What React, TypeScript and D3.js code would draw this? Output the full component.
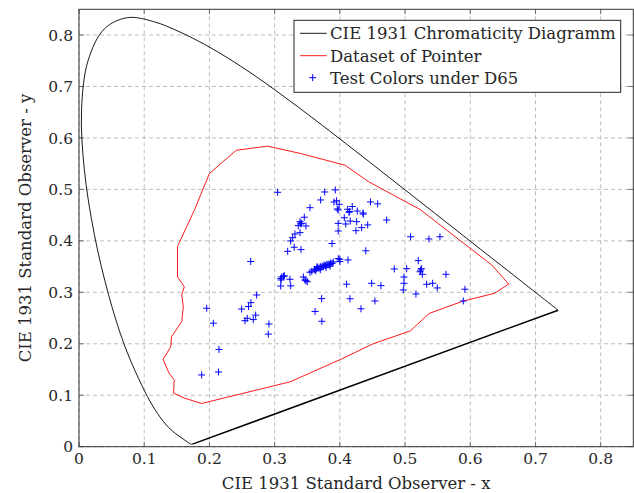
import React, { useEffect } from 'react';
import * as d3 from 'd3';

// CIE 1931 2° spectral locus (380–700 nm, 5 nm steps)
const locusX = [0.1741,0.1740,0.1738,0.1736,0.1733,0.1730,0.1726,0.1721,0.1714,0.1703,0.1689,0.1669,0.1644,0.1611,0.1566,0.1510,0.1440,0.1355,0.1241,0.1096,0.0913,0.0687,0.0454,0.0235,0.0082,0.0039,0.0139,0.0389,0.0743,0.1142,0.1547,0.1929,0.2296,0.2658,0.3016,0.3373,0.3731,0.4087,0.4441,0.4788,0.5125,0.5448,0.5752,0.6029,0.6270,0.6482,0.6658,0.6801,0.6915,0.7006,0.7079,0.7140,0.7190,0.7230,0.7260,0.7283,0.7300,0.7311,0.7320,0.7327,0.7334,0.7340,0.7344,0.7346,0.7347];
const locusY = [0.0050,0.0050,0.0049,0.0049,0.0048,0.0048,0.0048,0.0048,0.0051,0.0058,0.0069,0.0086,0.0109,0.0138,0.0177,0.0227,0.0297,0.0399,0.0578,0.0868,0.1327,0.2007,0.2950,0.4127,0.5384,0.6548,0.7502,0.8120,0.8338,0.8262,0.8059,0.7816,0.7543,0.7243,0.6923,0.6589,0.6245,0.5896,0.5547,0.5202,0.4866,0.4544,0.4242,0.3965,0.3725,0.3514,0.3340,0.3197,0.3083,0.2993,0.2920,0.2859,0.2809,0.2770,0.2740,0.2717,0.2700,0.2689,0.2680,0.2673,0.2666,0.2660,0.2656,0.2654,0.2653];

// Pointer's gamut
const pointerXY: [number, number][] = [
  [0.151,0.389],[0.177,0.460],[0.200,0.531],[0.241,0.576],[0.289,0.584],[0.339,0.570],[0.408,0.547],[0.444,0.515],[0.523,0.461],[0.633,0.353],[0.659,0.316],[0.637,0.298],[0.589,0.283],[0.537,0.259],[0.508,0.225],[0.451,0.200],[0.400,0.169],[0.3235,0.126],[0.188,0.084],[0.1625,0.094],[0.145,0.104],[0.146,0.130],[0.138,0.143],[0.129,0.170],[0.1406,0.194],[0.142,0.214],[0.1575,0.243],[0.160,0.272],[0.1575,0.295],[0.1615,0.311],[0.151,0.330]
];

// Test colours under D65
const testXY: [number, number][] = [
  [0.1881,0.1394],[0.2140,0.1452],[0.2147,0.1890],[0.2060,0.2400],[0.1958,0.2690],[0.2633,0.3600],[0.2724,0.2948],[0.2637,0.2799],[0.2600,0.2725],[0.2494,0.2675],[0.2709,0.2557],[0.2673,0.2470],[0.2580,0.2496],[0.2545,0.2449],[0.2913,0.2385],[0.2903,0.2188],
  [0.3093,0.3270],[0.3110,0.3300],[0.3135,0.3310],[0.3150,0.3320],[0.3100,0.3240],[0.3093,0.3123],[0.3235,0.3254],[0.3246,0.3126],[0.3440,0.3298],[0.3465,0.3240],[0.3500,0.3207],[0.3480,0.3225],[0.3542,0.3390],
  [0.3046,0.4944],[0.3200,0.3797],[0.3300,0.3876],[0.3404,0.3830],[0.3246,0.3998],[0.3277,0.4062],[0.3312,0.4134],[0.3389,0.4160],[0.3363,0.4296],[0.3414,0.4342],[0.3389,0.4373],[0.3400,0.4330],[0.3480,0.4290],[0.3455,0.4460],[0.3542,0.4645],
  [0.3767,0.4950],[0.3930,0.4990],[0.3705,0.4795],[0.3910,0.4755],[0.3950,0.4780],[0.3990,0.4710],[0.3975,0.4600],[0.3960,0.4620],[0.4120,0.4614],[0.4150,0.4570],[0.4190,0.4668],[0.4140,0.4556],[0.4267,0.4580],[0.4354,0.4542],[0.4360,0.4520],[0.4470,0.4756],[0.4580,0.4720],[0.4068,0.4450],[0.3975,0.4340],[0.3975,0.4192],[0.4090,0.4328],[0.4160,0.4385],[0.4258,0.4373],[0.4247,0.4198],[0.4334,0.4257],[0.4427,0.4310],[0.4718,0.4406],[0.3880,0.3950],[0.4398,0.3807],
  [0.5085,0.4080],[0.5366,0.4037],[0.5535,0.4080],[0.5203,0.3616],[0.5239,0.3434],[0.5250,0.3460],[0.5265,0.3350],[0.5230,0.3400],[0.5025,0.3460],[0.4835,0.3454],[0.5627,0.3350],[0.4983,0.3298],[0.4983,0.3176],[0.4973,0.3046],[0.4488,0.3176],[0.4630,0.3130],[0.5331,0.3156],[0.5423,0.3176],[0.5494,0.3085],[0.5167,0.2968],[0.5918,0.3060],[0.5893,0.2832],[0.4538,0.2832],[0.4324,0.2680],[0.4104,0.3158],[0.4155,0.2875],[0.3721,0.2878],[0.3620,0.2628],[0.3724,0.2437],
  [0.3976,0.3655],[0.4000,0.3642],[0.4125,0.3629],[0.4000,0.3600],
  [0.3570,0.3410],[0.3610,0.3440],[0.3640,0.3460],[0.3660,0.3480],[0.3680,0.3470],[0.3700,0.3500],[0.3710,0.3480],[0.3730,0.3510],[0.3750,0.3500],[0.3760,0.3530],[0.3780,0.3520],[0.3800,0.3540],[0.3820,0.3550],[0.3840,0.3540],[0.3860,0.3570],[0.3880,0.3560],[0.3900,0.3590],[0.3700,0.3440],[0.3650,0.3500],[0.3790,0.3480],[0.3850,0.3510],[0.3630,0.3420]
];

const ticks = [0, 0.1, 0.2, 0.3, 0.4, 0.5, 0.6, 0.7, 0.8];
const tickLabels = ['0', '0.1', '0.2', '0.3', '0.4', '0.5', '0.6', '0.7', '0.8'];
const legendLabels = ['CIE 1931 Chromaticity Diagramm', 'Dataset of Pointer', 'Test Colors under D65'];
const xTitle = 'CIE 1931 Standard Observer - x';
const yTitle = 'CIE 1931 Standard Observer - y';

const W = 634, H = 493;
const L = 79, R = 633.3, T = 9.3, B = 446.7;
const FONT = '"DejaVu Serif", "Liberation Serif", serif';
const TXT = '#262626';

export default function App() {
  useEffect(() => { document.body.style.margin = '0'; }, []);
  const x = d3.scaleLinear().domain([0, 0.85]).range([L, R]);
  const y = d3.scaleLinear().domain([0, 0.85]).range([B, T]);
  const locus = locusX.map((v, i) => [v, locusY[i]] as [number, number]);
  const line = d3.line<[number, number]>().x(d => x(d[0])).y(d => y(d[1]));
  const smooth = d3.line<[number, number]>().x(d => x(d[0])).y(d => y(d[1])).curve(d3.curveCatmullRom.alpha(0.5));
  const n = locus.length - 1;
  const plus = 'M-3.5,0H3.5M0,-3.5V3.5';
  const tk = 5;
  return (
    <svg width={W} height={H} style={{ position: 'absolute', left: 0, top: 0, display: 'block' }}>
      <rect x={0} y={0} width={W} height={H} fill="#fff" />
      {/* grid */}
      <g stroke="#bdbdbd" strokeWidth={1} strokeDasharray="4,3">
        {ticks.map((t, i) => <line key={'gx' + i} x1={x(t)} x2={x(t)} y1={T} y2={B} />)}
        {ticks.map((t, i) => <line key={'gy' + i} x1={L} x2={R} y1={y(t)} y2={y(t)} />)}
      </g>
      {/* ticks */}
      <g stroke="#555" strokeWidth={0.8}>
        {ticks.map((t, i) => (
          <g key={'t' + i}>
            <line x1={x(t)} x2={x(t)} y1={B} y2={B - tk} />
            <line x1={x(t)} x2={x(t)} y1={T} y2={T + tk} />
            <line x1={L} x2={L + tk} y1={y(t)} y2={y(t)} />
            <line x1={R} x2={R - tk} y1={y(t)} y2={y(t)} />
          </g>
        ))}
      </g>
      {/* data */}
      <path d={smooth(locus) || ''} fill="none" stroke="#000" strokeWidth={0.9} />
      <path d={line([locus[0], locus[n]]) || ''} fill="none" stroke="#000" strokeWidth={1.5} />
      <path d={(line(pointerXY) || '') + 'Z'} fill="none" stroke="#ff0000" strokeWidth={0.9} />
      <g stroke="#0000ff" strokeWidth={1} fill="none">
        {testXY.map((p, i) => <path key={'p' + i} d={plus} transform={`translate(${x(p[0])},${y(p[1])})`} />)}
      </g>
      {/* frame */}
      <rect x={L} y={T} width={R - L} height={B - T} fill="none" stroke="#333" strokeWidth={1} />
      {/* tick labels */}
      <g fontFamily={FONT} fontSize={15.5} fill={TXT}>
        {ticks.map((t, i) => (
          <text key={'xl' + i} x={x(t)} y={464} textAnchor="middle">{tickLabels[i]}</text>
        ))}
        {ticks.map((t, i) => (
          <text key={'yl' + i} x={73} y={y(t)} dy="0.36em" textAnchor="end">{tickLabels[i]}</text>
        ))}
      </g>
      {/* axis titles */}
      <text x={(L + R) / 2} y={489} textAnchor="middle" fontFamily={FONT} fontSize={16.5} fill={TXT}>{xTitle}</text>
      <text transform={`translate(31,${(T + B) / 2}) rotate(-90)`} textAnchor="middle" fontFamily={FONT} fontSize={16.5} fill={TXT}>{yTitle}</text>
      {/* legend */}
      <g>
        <rect x={294} y={20.3} width={326.7} height={72} fill="#fff" stroke="#222" strokeWidth={1} />
        <line x1={300} x2={326.7} y1={33.3} y2={33.3} stroke="#000" strokeWidth={0.9} />
        <line x1={300} x2={326.7} y1={55.7} y2={55.7} stroke="#ff0000" strokeWidth={0.9} />
        <path d={plus} transform="translate(312.7,77.7)" stroke="#0000ff" strokeWidth={1} fill="none" />
        {legendLabels.map((s, i) => (
          <text key={'lg' + i} x={330} y={[33.3, 55.7, 77.7][i]} dy="0.36em" fontFamily={FONT} fontSize={16.5} fill={TXT}>{s}</text>
        ))}
      </g>
    </svg>
  );
}
